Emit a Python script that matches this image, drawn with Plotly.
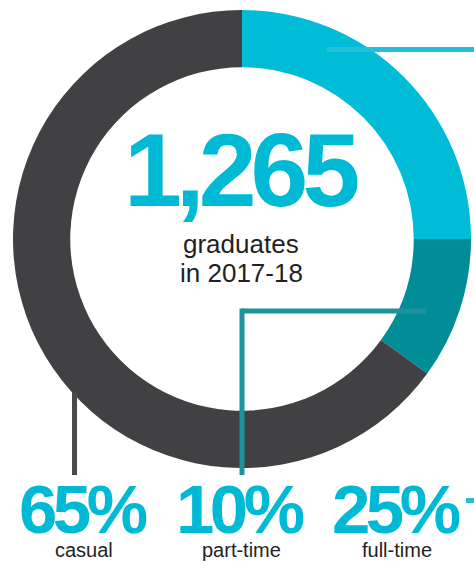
import plotly.graph_objects as go

# Graduate employment split, 2017-18
categories = ["full-time", "part-time", "casual"]
shares = [25, 10, 65]
total_graduates = 1265
year_label = "2017-18"

ring_colors = ["#00BCD6", "#008D97", "#414042"]
CYAN_TEXT = "#00BAD5"
DARK_TEXT = "#231F20"

W, H = 474, 563
BIG_FONT = "Liberation Sans, Arial, Helvetica, sans-serif"
BODY_FONT = "Liberation Sans, Arial, Helvetica, sans-serif"

# donut geometry (pixels)
cx, cy, r = 242, 239, 229

fig = go.Figure()
fig.add_trace(go.Pie(
    labels=categories,
    values=shares,
    sort=False,
    direction="clockwise",
    rotation=0,
    hole=0.75,
    textinfo="none",
    hoverinfo="label+percent",
    marker=dict(colors=ring_colors, line=dict(width=0)),
    domain=dict(x=[(cx - r) / W, (cx + r) / W],
                y=[(H - cy - r) / H, (H - cy + r) / H]),
    showlegend=False,
))

# invisible pixel-space axes used for the callout lines and labels
fig.update_xaxes(range=[0, W], visible=False, fixedrange=True)
fig.update_yaxes(range=[H, 0], visible=False, fixedrange=True)

shapes = [
    # full-time callout
    dict(type="line", x0=327, y0=49.5, x1=W + 2, y1=49.5,
         line=dict(color="#22C0D9", width=5)),
    dict(type="line", x0=466, y0=500.5, x1=W + 2, y1=500.5,
         line=dict(color="#22C0D9", width=5)),
    # part-time callout
    dict(type="line", x0=426, y0=311, x1=242, y1=311,
         line=dict(color="#1D949D", width=5)),
    dict(type="line", x0=242, y0=308.5, x1=242, y1=475,
         line=dict(color="#1D949D", width=5)),
    # casual callout
    dict(type="line", x0=74.5, y0=392, x1=74.5, y1=475,
         line=dict(color="#4A494C", width=5)),
]
for s in shapes:
    s.update(xref="x", yref="y", layer="above")

annotations = []

def add_text(text, x, y, size, color, family, weight="normal", tracking=None):
    if tracking is not None:
        text = f'<span style="letter-spacing:{tracking}px">{text}</span>'
    annotations.append(dict(
        text=text, x=x, y=y, xref="x", yref="y",
        xanchor="center", yanchor="middle", showarrow=False,
        font=dict(size=size, color=color, family=family, weight=weight),
    ))

# centre figure
add_text(f"{total_graduates:,}", 240, 170, 104, CYAN_TEXT, BIG_FONT, "bold", -6)
add_text("graduates", 241, 244, 26, DARK_TEXT, BODY_FONT)
add_text(f"in {year_label}", 241, 273, 26, DARK_TEXT, BODY_FONT)

# bottom percentage labels
label_x = {"casual": 84, "part-time": 241, "full-time": 397}
for cat, val in zip(categories, shares):
    add_text(f"{val}%", label_x[cat] - 1, 509, 69, CYAN_TEXT, BIG_FONT, "bold", -4.5)
    add_text(cat, label_x[cat], 550, 20, DARK_TEXT, BODY_FONT)

fig.update_layout(
    width=W, height=H,
    margin=dict(l=0, r=0, t=0, b=0),
    paper_bgcolor="white",
    plot_bgcolor="rgba(0,0,0,0)",
    shapes=shapes,
    annotations=annotations,
)

fig.write_html("out.html")
